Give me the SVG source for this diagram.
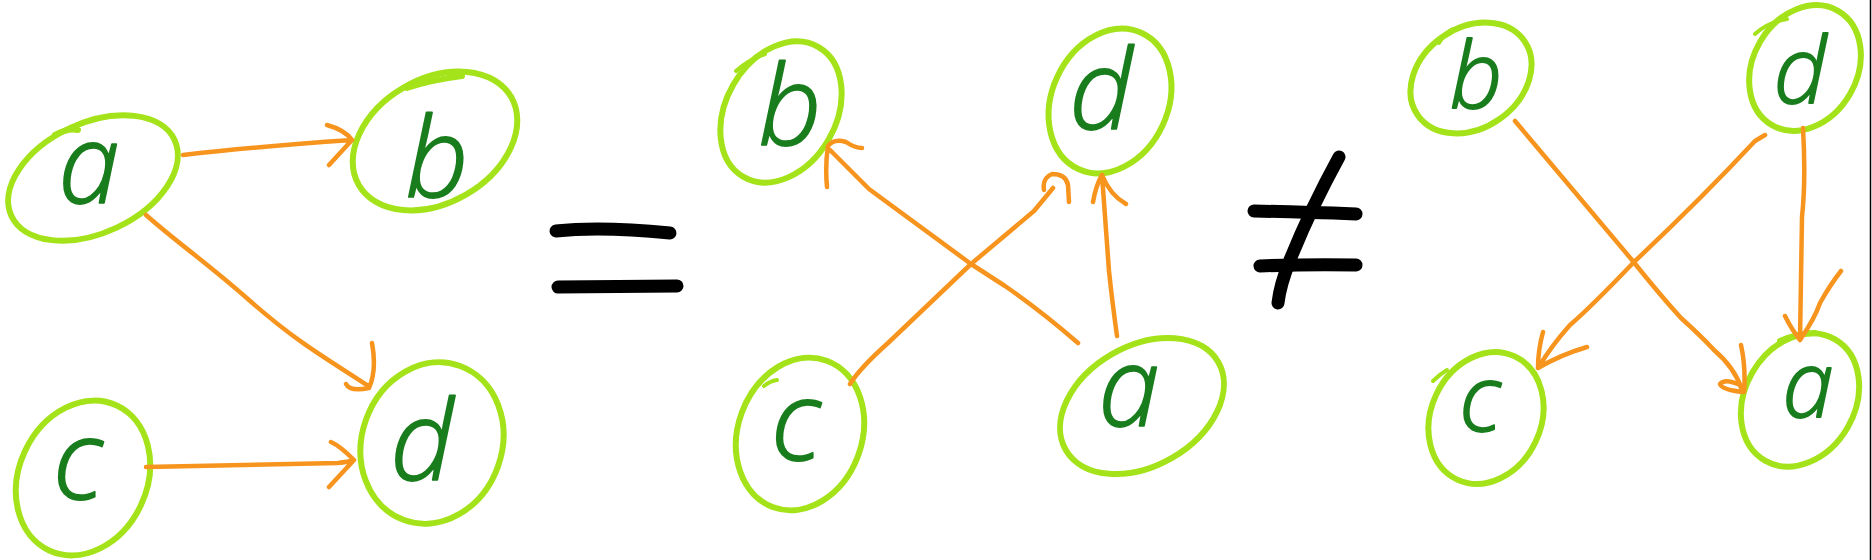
<svg xmlns="http://www.w3.org/2000/svg" width="1872" height="560" viewBox="0 0 1872 560">
<style>
.node{fill:none;stroke:#a4e31a;stroke-width:6;stroke-linecap:round;stroke-linejoin:round}
.thin{stroke-width:4}
.lbl{font-family:"Open Sans","Noto Sans",sans-serif;font-style:italic;font-weight:300;font-size:110px;fill:#197d1d;stroke:#197d1d;stroke-width:1.8;stroke-linejoin:round;text-anchor:middle}
.sm{font-size:92px}
.edge{fill:none;stroke:#f7941e;stroke-width:4.5;stroke-linecap:round;stroke-linejoin:round}
.sym{fill:none;stroke:#000;stroke-width:13;stroke-linecap:round;stroke-linejoin:round}
</style>
<rect width="1872" height="560" fill="#fff"/>
<line x1="1870.5" y1="0" x2="1870.5" y2="560" stroke="#000" stroke-width="1.5"/>

<!-- left graph -->
<g id="L-a"><ellipse class="node" cx="93" cy="178" rx="90" ry="55" transform="rotate(-25 93 178)"/><path class="node" d="M55,135 Q68,128 78,130"/><text class="lbl" x="89" y="203">a</text></g>
<g id="L-b"><ellipse class="node" cx="435" cy="141" rx="88" ry="62" transform="rotate(-30 435 141)"/><path class="node" d="M407,88 Q430,80 462,76"/><text class="lbl" x="437" y="197">b</text></g>
<g id="L-c"><ellipse class="node" cx="83" cy="478" rx="64" ry="80" transform="rotate(25 83 478)"/><text class="lbl" x="78" y="499">c</text></g>
<g id="L-d"><ellipse class="node" cx="432" cy="443" rx="70" ry="82" transform="rotate(20 432 443)"/><text class="lbl" x="422" y="480">d</text></g>

<!-- middle graph -->
<g id="M-b"><ellipse class="node" cx="781" cy="112" rx="55" ry="75" transform="rotate(30 781 112)"/><path class="node thin" d="M736,71 Q748,60 765,54"/><text class="lbl" x="790" y="145">b</text></g>
<g id="M-d"><ellipse class="node" cx="1110" cy="101" rx="58" ry="75" transform="rotate(25 1110 101)"/><text class="lbl" x="1101" y="129">d</text></g>
<g id="M-c"><ellipse class="node" cx="800" cy="434" rx="62" ry="78" transform="rotate(20 800 434)"/><path class="node thin" d="M764,386 Q770,381 777,380"/><text class="lbl" x="796" y="460">c</text></g>
<g id="M-a"><ellipse class="node" cx="1142" cy="406" rx="88" ry="60" transform="rotate(-30 1142 406)"/><text class="lbl" x="1129" y="426">a</text></g>

<!-- right graph -->
<g id="R-b"><ellipse class="node" cx="1471" cy="78" rx="65" ry="50" transform="rotate(-35 1471 78)"/><path class="node thin" d="M1439,43 Q1445,33 1453,29"/><text class="lbl sm" x="1476" y="108">b</text></g>
<g id="R-d"><ellipse class="node" cx="1805" cy="68" rx="52" ry="66" transform="rotate(30 1805 68)"/><path class="node thin" d="M1755,34 Q1768,22 1787,19"/><text class="lbl sm" x="1800" y="103">d</text></g>
<g id="R-c"><ellipse class="node" cx="1486" cy="418" rx="55" ry="68" transform="rotate(25 1486 418)"/><path class="node thin" d="M1433,381 Q1440,374 1447,370"/><text class="lbl sm" x="1480" y="431">c</text></g>
<g id="R-a"><ellipse class="node" cx="1800" cy="400" rx="55" ry="70" transform="rotate(30 1800 400)"/><path class="node" d="M1780,341 Q1795,334 1815,333"/><text class="lbl sm" x="1808" y="417">a</text></g>

<!-- symbols -->
<g id="eq"><path class="sym" d="M556,231 Q600,226 670,233"/><path class="sym" d="M558,287 L677,286"/></g>
<g id="neq"><path class="sym" d="M1254,211 Q1300,212 1356,214"/><path class="sym" d="M1260,266 Q1310,264 1356,265"/><path class="sym" d="M1339,157 Q1310,210 1290,260 Q1280,285 1278,303"/></g>

<g id="connectors">
<!-- left -->
<path class="edge" d="M183,155 Q250,147 352,140 M327,125 Q345,130 352,140 L329,165"/>
<path class="edge" d="M146,215 C180,245 206,262 249,300 S320,355 367,385 M372,343 Q377,370 369,388 Q350,392 346,384"/>
<path class="edge" d="M146,467 L338,463 Q348,462 354,460 M331,442 Q340,446 354,460 L329,487"/>
<!-- middle -->
<path class="edge" d="M1078,343 Q1040,310 1005,286 L971,264 L869,189 L830,150 M827,187 Q825,165 828,146 Q834,138 846,142 Q855,148 862,148"/>
<path class="edge" d="M850,384 Q860,368 888,343 L971,264 L1034,211 L1053,188 M1044,190 Q1042,178 1052,174 Q1066,174 1068,185 L1069,202"/>
<path class="edge" d="M1117,336 Q1112,300 1109,271 L1102,175 M1093,202 Q1096,185 1102,175 Q1110,195 1126,204"/>
<!-- right -->
<path class="edge" d="M1515,121 L1632,260 Q1660,295 1681,318 Q1700,335 1714,350 Q1735,368 1742,390 M1741,345 Q1746,368 1744,392 Q1722,390 1720,384 Q1725,378 1740,385"/>
<path class="edge" d="M1765,135 L1755,141 Q1700,200 1634,262 Q1590,308 1570,325 Q1552,345 1538,368 M1543,332 Q1538,350 1538,368 Q1560,355 1587,347"/>
<path class="edge" d="M1803,128 Q1806,180 1802,217 L1800,340 M1785,316 Q1792,330 1800,340 Q1815,318 1820,303 Q1830,285 1841,271"/>
</g>
</svg>
